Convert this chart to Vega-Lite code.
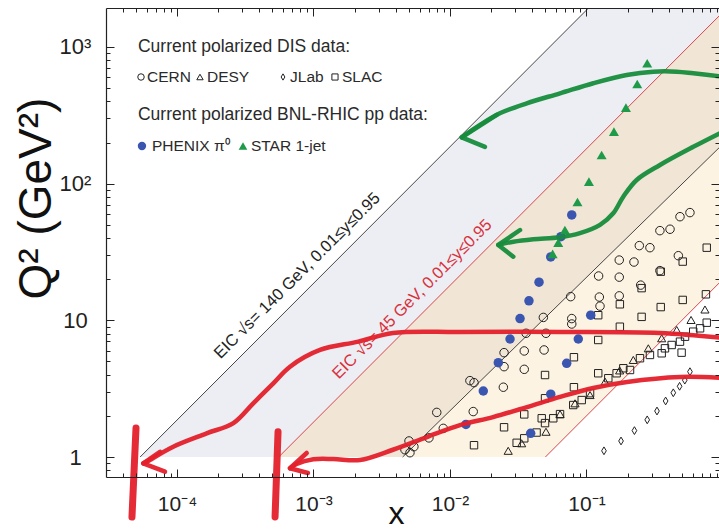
{
  "$schema": "https://vega.github.io/schema/vega-lite/v6.json",
  "width": 613,
  "height": 469,
  "autosize": {"type": "none"},
  "padding": {"left": 106, "top": 8, "right": 0, "bottom": 54},
  "background": "white",
  "config": {"view": {"stroke": null}, "font": "Liberation Sans"},
  "datasets": {
    "gray": [{"x": 5.37e-5, "lo": 1, "hi": 1}, {"x": 0.10355, "lo": 1, "hi": 1928}, {"x": 1.0, "lo": 1, "hi": 1928}],
    "tan": [{"x": 5.56e-4, "lo": 1, "hi": 1}, {"x": 1.0, "lo": 1, "hi": 1800}],
    "cream": [{"x": 0.0045, "lo": 1, "hi": 1}, {"x": 0.05, "lo": 1, "hi": 10.49}, {"x": 1.0, "lo": 20, "hi": 195.2}],
    "white": [{"x": 0.05, "lo": 1, "hi": 1}, {"x": 1.0, "lo": 1, "hi": 20}],
    "lines": [
      {"id": "A", "x": 5.37e-5, "q2": 1}, {"id": "A", "x": 0.10355, "q2": 1928},
      {"id": "B", "x": 5.56e-4, "q2": 1}, {"id": "B", "x": 1.0, "q2": 1800},
      {"id": "C", "x": 0.0045, "q2": 1}, {"id": "C", "x": 1.0, "q2": 195.2},
      {"id": "D", "x": 0.05, "q2": 1}, {"id": "D", "x": 1.0, "q2": 20}
    ],
    "points": [
      {"set": "CERN", "x": 0.00468, "q2": 1.13}, {"set": "CERN", "x": 0.00501, "q2": 1.31}, {"set": "CERN", "x": 0.00509, "q2": 1.075}, {"set": "CERN", "x": 0.00544, "q2": 1.19}, {"set": "CERN", "x": 0.00701, "q2": 1.38}, {"set": "CERN", "x": 0.008, "q2": 2.12}, {"set": "CERN", "x": 0.00893, "q2": 1.62}, {"set": "CERN", "x": 0.014, "q2": 3.62}, {"set": "CERN", "x": 0.015, "q2": 3.5}, {"set": "CERN", "x": 0.0148, "q2": 2.15}, {"set": "CERN", "x": 0.0246, "q2": 3.24}, {"set": "CERN", "x": 0.0249, "q2": 4.58}, {"set": "CERN", "x": 0.0249, "q2": 5.8}, {"set": "CERN", "x": 0.035, "q2": 5.97}, {"set": "CERN", "x": 0.035, "q2": 4.38}, {"set": "CERN", "x": 0.0361, "q2": 8.04}, {"set": "CERN", "x": 0.0483, "q2": 10.5}, {"set": "CERN", "x": 0.0489, "q2": 6.07}, {"set": "CERN", "x": 0.0505, "q2": 8.04}, {"set": "CERN", "x": 0.0766, "q2": 14.9}, {"set": "CERN", "x": 0.078, "q2": 10.3}, {"set": "CERN", "x": 0.078, "q2": 9.4}, {"set": "CERN", "x": 0.1227, "q2": 21.1}, {"set": "CERN", "x": 0.1242, "q2": 14.8}, {"set": "CERN", "x": 0.1256, "q2": 12.7}, {"set": "CERN", "x": 0.1738, "q2": 27.6}, {"set": "CERN", "x": 0.1738, "q2": 20.7}, {"set": "CERN", "x": 0.1738, "q2": 15.1}, {"set": "CERN", "x": 0.2228, "q2": 26.7}, {"set": "CERN", "x": 0.2438, "q2": 35.2}, {"set": "CERN", "x": 0.2495, "q2": 18.1}, {"set": "CERN", "x": 0.2917, "q2": 34.0}, {"set": "CERN", "x": 0.3451, "q2": 45.3}, {"set": "CERN", "x": 0.4093, "q2": 46.4}, {"set": "CERN", "x": 0.471, "q2": 29.7}, {"set": "CERN", "x": 0.4842, "q2": 57.3}, {"set": "CERN", "x": 0.5728, "q2": 61.4}, {"set": "CERN", "x": 0.3451, "q2": 23.1},
      {"set": "SLAC", "x": 0.015, "q2": 1.22}, {"set": "SLAC", "x": 0.0249, "q2": 1.65}, {"set": "SLAC", "x": 0.035, "q2": 2.05}, {"set": "SLAC", "x": 0.0497, "q2": 3.98}, {"set": "SLAC", "x": 0.0497, "q2": 2.69}, {"set": "SLAC", "x": 0.0809, "q2": 5.37}, {"set": "SLAC", "x": 0.0809, "q2": 3.24}, {"set": "SLAC", "x": 0.1219, "q2": 10.9}, {"set": "SLAC", "x": 0.1219, "q2": 7.18}, {"set": "SLAC", "x": 0.1219, "q2": 4.1}, {"set": "SLAC", "x": 0.1756, "q2": 13.1}, {"set": "SLAC", "x": 0.1756, "q2": 8.98}, {"set": "SLAC", "x": 0.2535, "q2": 17.2}, {"set": "SLAC", "x": 0.2535, "q2": 10.6}, {"set": "SLAC", "x": 0.3499, "q2": 22.7}, {"set": "SLAC", "x": 0.3499, "q2": 12.5}, {"set": "SLAC", "x": 0.507, "q2": 26.9}, {"set": "SLAC", "x": 0.507, "q2": 14.1}, {"set": "SLAC", "x": 0.7603, "q2": 34.0}, {"set": "SLAC", "x": 0.7499, "q2": 15.5}, {"set": "SLAC", "x": 0.4977, "q2": 5.8},
      {"set": "SLAC", "x": 0.0308, "q2": 1.27}, {"set": "SLAC", "x": 0.035, "q2": 1.37}, {"set": "SLAC", "x": 0.0431, "q2": 1.51}, {"set": "SLAC", "x": 0.047, "q2": 1.92}, {"set": "SLAC", "x": 0.0497, "q2": 1.77}, {"set": "SLAC", "x": 0.0571, "q2": 1.92}, {"set": "SLAC", "x": 0.064, "q2": 2.06}, {"set": "SLAC", "x": 0.08, "q2": 2.4}, {"set": "SLAC", "x": 0.0923, "q2": 2.61}, {"set": "SLAC", "x": 0.1062, "q2": 2.93}, {"set": "SLAC", "x": 0.1445, "q2": 3.77}, {"set": "SLAC", "x": 0.1663, "q2": 4.1}, {"set": "SLAC", "x": 0.1862, "q2": 4.46}, {"set": "SLAC", "x": 0.2084, "q2": 4.33}, {"set": "SLAC", "x": 0.2466, "q2": 5.28}, {"set": "SLAC", "x": 0.2917, "q2": 5.58}, {"set": "SLAC", "x": 0.3556, "q2": 5.74}, {"set": "SLAC", "x": 0.3758, "q2": 6.24}, {"set": "SLAC", "x": 0.4207, "q2": 6.6}, {"set": "SLAC", "x": 0.4842, "q2": 6.98}, {"set": "SLAC", "x": 0.5272, "q2": 7.59}, {"set": "SLAC", "x": 0.6053, "q2": 8.26}, {"set": "SLAC", "x": 0.6792, "q2": 8.74}, {"set": "SLAC", "x": 0.7603, "q2": 9.61},
      {"set": "DESY", "x": 0.0267, "q2": 1.11}, {"set": "DESY", "x": 0.0335, "q2": 1.26}, {"set": "DESY", "x": 0.0505, "q2": 1.53}, {"set": "DESY", "x": 0.064, "q2": 2.06}, {"set": "DESY", "x": 0.0824, "q2": 2.47}, {"set": "DESY", "x": 0.1062, "q2": 2.84}, {"set": "DESY", "x": 0.1368, "q2": 3.56}, {"set": "DESY", "x": 0.175, "q2": 4.3}, {"set": "DESY", "x": 0.2203, "q2": 5.13}, {"set": "DESY", "x": 0.2838, "q2": 6.24}, {"set": "DESY", "x": 0.3556, "q2": 7.39}, {"set": "DESY", "x": 0.4581, "q2": 8.5}, {"set": "DESY", "x": 0.5834, "q2": 10.06}, {"set": "DESY", "x": 0.7379, "q2": 12.0},
      {"set": "JLab", "x": 0.1343, "q2": 1.11}, {"set": "JLab", "x": 0.1791, "q2": 1.31}, {"set": "JLab", "x": 0.2245, "q2": 1.56}, {"set": "JLab", "x": 0.2786, "q2": 1.87}, {"set": "JLab", "x": 0.3285, "q2": 2.17}, {"set": "JLab", "x": 0.38, "q2": 2.57}, {"set": "JLab", "x": 0.4325, "q2": 2.95}, {"set": "JLab", "x": 0.481, "q2": 3.29}, {"set": "JLab", "x": 0.525, "q2": 3.65}, {"set": "JLab", "x": 0.5728, "q2": 4.21},
      {"set": "PHENIX", "x": 0.01309, "q2": 1.73}, {"set": "PHENIX", "x": 0.01754, "q2": 3.04}, {"set": "PHENIX", "x": 0.0226, "q2": 4.9}, {"set": "PHENIX", "x": 0.02754, "q2": 7.3}, {"set": "PHENIX", "x": 0.0326, "q2": 10.3}, {"set": "PHENIX", "x": 0.0379, "q2": 13.9}, {"set": "PHENIX", "x": 0.0449, "q2": 19.0}, {"set": "PHENIX", "x": 0.0547, "q2": 29.1}, {"set": "PHENIX", "x": 0.065, "q2": 40.9}, {"set": "PHENIX", "x": 0.078, "q2": 59.0}, {"set": "PHENIX", "x": 0.039, "q2": 1.49}, {"set": "PHENIX", "x": 0.0547, "q2": 2.88}, {"set": "PHENIX", "x": 0.0716, "q2": 4.85}, {"set": "PHENIX", "x": 0.0871, "q2": 7.3}, {"set": "PHENIX", "x": 0.1074, "q2": 10.9},
      {"set": "STAR", "x": 0.2786, "q2": 760}, {"set": "STAR", "x": 0.2355, "q2": 536}, {"set": "STAR", "x": 0.1945, "q2": 360}, {"set": "STAR", "x": 0.1589, "q2": 240}, {"set": "STAR", "x": 0.1291, "q2": 162}, {"set": "STAR", "x": 0.1042, "q2": 103.4}, {"set": "STAR", "x": 0.0859, "q2": 73.4}, {"set": "STAR", "x": 0.0695, "q2": 45.8}, {"set": "STAR", "x": 0.0621, "q2": 37.0}, {"set": "STAR", "x": 0.0565, "q2": 30.6}
    ],
    "legendSym": [
      {"set": "CERN", "x": 5.45e-5, "q2": 603}, {"set": "DESY", "x": 1.474e-4, "q2": 603}, {"set": "JLab", "x": 5.98e-4, "q2": 603}, {"set": "SLAC", "x": 1.437e-3, "q2": 603},
      {"set": "PHENIX", "x": 5.54e-5, "q2": 188.7}, {"set": "STAR", "x": 3.045e-4, "q2": 188.7}
    ],
    "legendText": [
      {"kind": "head", "x": 5.18e-5, "q2": 1000, "label": "Current polarized DIS data:"},
      {"kind": "item", "x": 6.03e-5, "q2": 603, "label": "CERN"},
      {"kind": "item", "x": 1.659e-4, "q2": 603, "label": "DESY"},
      {"kind": "item", "x": 6.73e-4, "q2": 603, "label": "JLab"},
      {"kind": "item", "x": 1.618e-3, "q2": 603, "label": "SLAC"},
      {"kind": "head", "x": 5.18e-5, "q2": 318, "label": "Current polarized BNL-RHIC pp data:"},
      {"kind": "item", "x": 6.56e-5, "q2": 188.7, "label": "PHENIX π⁰"},
      {"kind": "item", "x": 3.48e-4, "q2": 188.7, "label": "STAR 1-jet"}
    ],
    "annot": [
      {"grp": "black", "x": 9.31e-4, "q2": 17.33, "label": "EIC √s= 140 GeV, 0.01≤y≤0.95"},
      {"grp": "red", "x": 6.48e-3, "q2": 11.66, "label": "EIC √s= 45 GeV, 0.01≤y≤0.95"}
    ],
    "strokes": [
      {"id": "r1", "kind": "body", "col": "red", "ord": 1, "x": 1.0, "q2": 7.43},
      {"id": "r1", "kind": "body", "col": "red", "ord": 2, "x": 0.3455, "q2": 8.08},
      {"id": "r1", "kind": "body", "col": "red", "ord": 3, "x": 0.064, "q2": 8.22},
      {"id": "r1", "kind": "body", "col": "red", "ord": 4, "x": 0.01184, "q2": 8.22},
      {"id": "r1", "kind": "body", "col": "red", "ord": 5, "x": 0.00382, "q2": 8.08},
      {"id": "r1", "kind": "body", "col": "red", "ord": 6, "x": 0.00213, "q2": 6.98},
      {"id": "r1", "kind": "body", "col": "red", "ord": 7, "x": 0.001116, "q2": 6.07},
      {"id": "r1", "kind": "body", "col": "red", "ord": 8, "x": 0.000673, "q2": 4.58},
      {"id": "r1", "kind": "body", "col": "red", "ord": 9, "x": 0.000508, "q2": 3.46},
      {"id": "r1", "kind": "body", "col": "red", "ord": 10, "x": 0.000362, "q2": 2.47},
      {"id": "r1", "kind": "body", "col": "red", "ord": 11, "x": 0.000259, "q2": 1.77},
      {"id": "r1", "kind": "body", "col": "red", "ord": 12, "x": 0.000165, "q2": 1.49},
      {"id": "r1", "kind": "body", "col": "red", "ord": 13, "x": 0.0000939, "q2": 1.19},
      {"id": "r1", "kind": "body", "col": "red", "ord": 14, "x": 0.00006, "q2": 0.924},
      {"id": "r1", "kind": "body", "col": "red", "ord": 15, "x": 0.0000566, "q2": 0.899},
      {"id": "r1h", "kind": "head", "col": "red", "ord": 1, "x": 0.0000751, "q2": 1.09},
      {"id": "r1h", "kind": "head", "col": "red", "ord": 2, "x": 0.0000566, "q2": 0.899},
      {"id": "r1h", "kind": "head", "col": "red", "ord": 3, "x": 0.0000817, "q2": 0.781},
      {"id": "r2", "kind": "body", "col": "red", "ord": 1, "x": 1.0, "q2": 3.79},
      {"id": "r2", "kind": "body", "col": "red", "ord": 2, "x": 0.484, "q2": 3.85},
      {"id": "r2", "kind": "body", "col": "red", "ord": 3, "x": 0.198, "q2": 3.54},
      {"id": "r2", "kind": "body", "col": "red", "ord": 4, "x": 0.1122, "q2": 3.2},
      {"id": "r2", "kind": "body", "col": "red", "ord": 5, "x": 0.064, "q2": 2.75},
      {"id": "r2", "kind": "body", "col": "red", "ord": 6, "x": 0.0367, "q2": 2.32},
      {"id": "r2", "kind": "body", "col": "red", "ord": 7, "x": 0.0207, "q2": 1.96},
      {"id": "r2", "kind": "body", "col": "red", "ord": 8, "x": 0.01184, "q2": 1.71},
      {"id": "r2", "kind": "body", "col": "red", "ord": 9, "x": 0.00678, "q2": 1.4},
      {"id": "r2", "kind": "body", "col": "red", "ord": 10, "x": 0.00382, "q2": 1.13},
      {"id": "r2", "kind": "body", "col": "red", "ord": 11, "x": 0.00219, "q2": 0.951},
      {"id": "r2", "kind": "body", "col": "red", "ord": 12, "x": 0.001397, "q2": 0.967},
      {"id": "r2", "kind": "body", "col": "red", "ord": 13, "x": 0.000997, "q2": 0.962},
      {"id": "r2", "kind": "body", "col": "red", "ord": 14, "x": 0.000753, "q2": 0.889},
      {"id": "r2", "kind": "body", "col": "red", "ord": 15, "x": 0.000673, "q2": 0.827},
      {"id": "r2h", "kind": "head", "col": "red", "ord": 1, "x": 0.000892, "q2": 1.07},
      {"id": "r2h", "kind": "head", "col": "red", "ord": 2, "x": 0.000673, "q2": 0.827},
      {"id": "r2h", "kind": "head", "col": "red", "ord": 3, "x": 0.000911, "q2": 0.764},
      {"id": "g1", "kind": "body", "col": "green", "ord": 1, "x": 1.0, "q2": 606},
      {"id": "g1", "kind": "body", "col": "green", "ord": 2, "x": 0.606, "q2": 642},
      {"id": "g1", "kind": "body", "col": "green", "ord": 3, "x": 0.458, "q2": 660},
      {"id": "g1", "kind": "body", "col": "green", "ord": 4, "x": 0.3086, "q2": 660},
      {"id": "g1", "kind": "body", "col": "green", "ord": 5, "x": 0.197, "q2": 624},
      {"id": "g1", "kind": "body", "col": "green", "ord": 6, "x": 0.1122, "q2": 543},
      {"id": "g1", "kind": "body", "col": "green", "ord": 7, "x": 0.064, "q2": 458},
      {"id": "g1", "kind": "body", "col": "green", "ord": 8, "x": 0.0365, "q2": 387},
      {"id": "g1", "kind": "body", "col": "green", "ord": 9, "x": 0.0232, "q2": 327},
      {"id": "g1", "kind": "body", "col": "green", "ord": 10, "x": 0.01659, "q2": 269},
      {"id": "g1", "kind": "body", "col": "green", "ord": 11, "x": 0.01288, "q2": 227},
      {"id": "g1", "kind": "body", "col": "green", "ord": 12, "x": 0.01218, "q2": 218},
      {"id": "g1h", "kind": "head", "col": "green", "ord": 1, "x": 0.022, "q2": 318},
      {"id": "g1h", "kind": "head", "col": "green", "ord": 2, "x": 0.01218, "q2": 218},
      {"id": "g1h", "kind": "head", "col": "green", "ord": 3, "x": 0.01805, "q2": 186},
      {"id": "g2", "kind": "body", "col": "green", "ord": 1, "x": 1.0, "q2": 240},
      {"id": "g2", "kind": "body", "col": "green", "ord": 2, "x": 0.606, "q2": 186},
      {"id": "g2", "kind": "body", "col": "green", "ord": 3, "x": 0.3455, "q2": 137},
      {"id": "g2", "kind": "body", "col": "green", "ord": 4, "x": 0.2332, "q2": 106.4},
      {"id": "g2", "kind": "body", "col": "green", "ord": 5, "x": 0.186, "q2": 80.3},
      {"id": "g2", "kind": "body", "col": "green", "ord": 6, "x": 0.157, "q2": 60.7},
      {"id": "g2", "kind": "body", "col": "green", "ord": 7, "x": 0.1256, "q2": 49.9},
      {"id": "g2", "kind": "body", "col": "green", "ord": 8, "x": 0.0896, "q2": 43.4},
      {"id": "g2", "kind": "body", "col": "green", "ord": 9, "x": 0.064, "q2": 40.5},
      {"id": "g2", "kind": "body", "col": "green", "ord": 10, "x": 0.0408, "q2": 39.2},
      {"id": "g2", "kind": "body", "col": "green", "ord": 11, "x": 0.0291, "q2": 37.6},
      {"id": "g2", "kind": "body", "col": "green", "ord": 12, "x": 0.0226, "q2": 35.6},
      {"id": "g2h", "kind": "head", "col": "green", "ord": 1, "x": 0.0326, "q2": 45.8},
      {"id": "g2h", "kind": "head", "col": "green", "ord": 2, "x": 0.0226, "q2": 35.6},
      {"id": "g2h", "kind": "head", "col": "green", "ord": 3, "x": 0.0291, "q2": 29.2},
      {"id": "b1", "kind": "bar", "col": "red", "ord": 1, "x": 5.01e-5, "q2": 1.63},
      {"id": "b1", "kind": "bar", "col": "red", "ord": 2, "x": 4.68e-5, "q2": 0.364},
      {"id": "b2", "kind": "bar", "col": "red", "ord": 1, "x": 5.5e-4, "q2": 1.53},
      {"id": "b2", "kind": "bar", "col": "red", "ord": 2, "x": 5.23e-4, "q2": 0.364}
    ]
  },
  "resolve": {
    "axis": {"x": "independent", "y": "independent"},
    "scale": {"color": "independent", "shape": "independent", "size": "independent"}
  },
  "layer": [
    {
      "data": {"name": "gray"},
      "mark": {"type": "area", "color": "#eceef4"},
      "encoding": {
        "x": {"field": "x", "type": "quantitative", "scale": {"type": "log", "domain": [3.02e-5, 0.935], "nice": false},
          "axis": {"orient": "bottom", "values": [0.0001, 0.001, 0.01, 0.1, 1], "zindex": 1,
            "labelExpr": "datum.value < 0.0005 ? '10⁻⁴' : datum.value < 0.005 ? '10⁻³' : datum.value < 0.05 ? '10⁻²' : datum.value < 0.5 ? '10⁻¹' : '1'",
            "tickSize": -8, "tickColor": "#222", "tickWidth": 1, "domainColor": "#222", "domainWidth": 1.2, "grid": false,
            "labelFont": "Liberation Sans", "labelFontSize": 21, "labelColor": "#222", "labelPadding": 41, "labelBaseline": "alphabetic", "labelAlign": "center", "labelFlush": false, "labelOverlap": false, "labelBound": false,
            "title": "x", "titleFont": "Liberation Sans", "titleFontSize": 32, "titleFontWeight": "normal", "titleColor": "#111", "titleX": 290, "titleY": 46, "titleBaseline": "alphabetic", "titleAlign": "center"}},
        "y": {"field": "hi", "type": "quantitative", "scale": {"type": "log", "domain": [0.714, 1928], "nice": false},
          "axis": {"orient": "left", "values": [1, 10, 100, 1000], "zindex": 1,
            "labelExpr": "datum.value > 500 ? '10³' : datum.value > 50 ? '10²' : datum.value > 5 ? '10' : '1'",
            "tickSize": -8, "tickColor": "#222", "tickWidth": 1, "domainColor": "#222", "domainWidth": 1.2, "grid": false,
            "labelFont": "Liberation Sans", "labelFontSize": 22, "labelColor": "#222", "labelPadding": 39, "labelBaseline": "middle", "labelAlign": "center", "labelFlush": false, "labelOverlap": false, "labelBound": false,
            "title": "Q² (GeV²)", "titleFont": "Liberation Sans", "titleFontSize": 46, "titleFontWeight": "normal", "titleColor": "#111", "titleX": -56, "titleY": 190, "titleAngle": -90, "titleBaseline": "alphabetic", "titleAlign": "center"}},
        "y2": {"field": "lo"}
      }
    },
    {
      "data": {"name": "tan"},
      "mark": {"type": "area", "color": "#f1e6d6"},
      "encoding": {
        "x": {"field": "x", "type": "quantitative",
          "axis": {"orient": "bottom", "zindex": 1, "values": [4e-5, 5e-5, 6e-5, 7e-5, 8e-5, 9e-5, 2e-4, 3e-4, 4e-4, 5e-4, 6e-4, 7e-4, 8e-4, 9e-4, 0.002, 0.003, 0.004, 0.005, 0.006, 0.007, 0.008, 0.009, 0.02, 0.03, 0.04, 0.05, 0.06, 0.07, 0.08, 0.09, 0.2, 0.3, 0.4, 0.5, 0.6, 0.7, 0.8, 0.9],
            "labels": false, "domain": false, "grid": false, "tickSize": -4, "tickColor": "#222", "tickWidth": 1, "title": null}},
        "y": {"field": "hi", "type": "quantitative",
          "axis": {"orient": "left", "zindex": 1, "values": [0.8, 0.9, 2, 3, 4, 5, 6, 7, 8, 9, 20, 30, 40, 50, 60, 70, 80, 90, 200, 300, 400, 500, 600, 700, 800, 900],
            "labels": false, "domain": false, "grid": false, "tickSize": -4, "tickColor": "#222", "tickWidth": 1, "title": null}},
        "y2": {"field": "lo"}
      }
    },
    {
      "data": {"name": "cream"},
      "mark": {"type": "area", "color": "#fdf3e2"},
      "encoding": {
        "x": {"field": "x", "type": "quantitative",
          "axis": {"orient": "top", "zindex": 1, "values": [0.0001, 0.001, 0.01, 0.1, 1], "labels": false, "domain": true, "domainColor": "#222", "domainWidth": 1.2, "grid": false, "tickSize": -8, "tickColor": "#222", "tickWidth": 1, "title": null}},
        "y": {"field": "hi", "type": "quantitative",
          "axis": {"orient": "right", "zindex": 1, "values": [1, 10, 100, 1000], "labels": false, "domain": false, "grid": false, "tickSize": -8, "tickColor": "#222", "tickWidth": 1, "title": null}},
        "y2": {"field": "lo"}
      }
    },
    {
      "data": {"name": "white"},
      "mark": {"type": "area", "color": "#ffffff"},
      "encoding": {
        "x": {"field": "x", "type": "quantitative",
          "axis": {"orient": "top", "zindex": 1, "values": [4e-5, 5e-5, 6e-5, 7e-5, 8e-5, 9e-5, 2e-4, 3e-4, 4e-4, 5e-4, 6e-4, 7e-4, 8e-4, 9e-4, 0.002, 0.003, 0.004, 0.005, 0.006, 0.007, 0.008, 0.009, 0.02, 0.03, 0.04, 0.05, 0.06, 0.07, 0.08, 0.09, 0.2, 0.3, 0.4, 0.5, 0.6, 0.7, 0.8, 0.9],
            "labels": false, "domain": false, "grid": false, "tickSize": -4, "tickColor": "#222", "tickWidth": 1, "title": null}},
        "y": {"field": "hi", "type": "quantitative",
          "axis": {"orient": "right", "zindex": 1, "values": [0.8, 0.9, 2, 3, 4, 5, 6, 7, 8, 9, 20, 30, 40, 50, 60, 70, 80, 90, 200, 300, 400, 500, 600, 700, 800, 900],
            "labels": false, "domain": false, "grid": false, "tickSize": -4, "tickColor": "#222", "tickWidth": 1, "title": null}},
        "y2": {"field": "lo"}
      }
    },
    {
      "data": {"name": "lines"},
      "mark": {"type": "line", "strokeWidth": 0.9},
      "encoding": {
        "x": {"field": "x", "type": "quantitative", "axis": null},
        "y": {"field": "q2", "type": "quantitative", "axis": null},
        "color": {"field": "id", "type": "nominal", "scale": {"domain": ["A", "B", "C", "D"], "range": ["#333333", "#d8323c", "#333333", "#d8323c"]}, "legend": null}
      }
    },
    {
      "data": {"name": "annot"},
      "mark": {"type": "text", "angle": -45, "align": "center", "baseline": "middle", "dy": -17, "fontSize": 16.5, "font": "Liberation Sans"},
      "encoding": {
        "x": {"field": "x", "type": "quantitative", "axis": null},
        "y": {"field": "q2", "type": "quantitative", "axis": null},
        "text": {"field": "label"},
        "color": {"field": "grp", "type": "nominal", "scale": {"domain": ["black", "red"], "range": ["#222222", "#d8323c"]}, "legend": null}
      }
    },
    {
      "data": {"name": "points"},
      "transform": [{"filter": "datum.set != 'PHENIX' && datum.set != 'STAR'"}],
      "mark": {"type": "point", "filled": false, "stroke": "#222", "strokeWidth": 1, "opacity": 1},
      "encoding": {
        "x": {"field": "x", "type": "quantitative", "axis": null},
        "y": {"field": "q2", "type": "quantitative", "axis": null},
        "shape": {"field": "set", "type": "nominal", "scale": {"domain": ["CERN", "DESY", "JLab", "SLAC"], "range": ["circle", "triangle-up", "M0,-1L0.6,0L0,1L-0.6,0Z", "square"]}, "legend": null},
        "size": {"field": "set", "type": "nominal", "scale": {"domain": ["CERN", "DESY", "JLab", "SLAC"], "range": [72, 55, 45, 72]}, "legend": null}
      }
    },
    {
      "data": {"name": "points"},
      "transform": [{"filter": "datum.set == 'PHENIX' || datum.set == 'STAR'"}],
      "mark": {"type": "point", "filled": true, "opacity": 1, "strokeWidth": 0},
      "encoding": {
        "x": {"field": "x", "type": "quantitative", "axis": null},
        "y": {"field": "q2", "type": "quantitative", "axis": null},
        "shape": {"field": "set", "type": "nominal", "scale": {"domain": ["PHENIX", "STAR"], "range": ["circle", "triangle-up"]}, "legend": null},
        "size": {"field": "set", "type": "nominal", "scale": {"domain": ["PHENIX", "STAR"], "range": [90, 100]}, "legend": null},
        "color": {"field": "set", "type": "nominal", "scale": {"domain": ["PHENIX", "STAR"], "range": ["#3b56b0", "#1e9a48"]}, "legend": null}
      }
    },
    {
      "data": {"name": "legendSym"},
      "transform": [{"filter": "datum.set != 'PHENIX' && datum.set != 'STAR'"}],
      "mark": {"type": "point", "filled": false, "stroke": "#222", "strokeWidth": 1, "opacity": 1},
      "encoding": {
        "x": {"field": "x", "type": "quantitative", "axis": null},
        "y": {"field": "q2", "type": "quantitative", "axis": null},
        "shape": {"field": "set", "type": "nominal", "scale": {"domain": ["CERN", "DESY", "JLab", "SLAC"], "range": ["circle", "triangle-up", "M0,-1L0.6,0L0,1L-0.6,0Z", "square"]}, "legend": null},
        "size": {"field": "set", "type": "nominal", "scale": {"domain": ["CERN", "DESY", "JLab", "SLAC"], "range": [42, 38, 40, 42]}, "legend": null}
      }
    },
    {
      "data": {"name": "legendSym"},
      "transform": [{"filter": "datum.set == 'PHENIX' || datum.set == 'STAR'"}],
      "mark": {"type": "point", "filled": true, "opacity": 1, "strokeWidth": 0},
      "encoding": {
        "x": {"field": "x", "type": "quantitative", "axis": null},
        "y": {"field": "q2", "type": "quantitative", "axis": null},
        "shape": {"field": "set", "type": "nominal", "scale": {"domain": ["PHENIX", "STAR"], "range": ["circle", "triangle-up"]}, "legend": null},
        "size": {"field": "set", "type": "nominal", "scale": {"domain": ["PHENIX", "STAR"], "range": [70, 75]}, "legend": null},
        "color": {"field": "set", "type": "nominal", "scale": {"domain": ["PHENIX", "STAR"], "range": ["#3b56b0", "#1e9a48"]}, "legend": null}
      }
    },
    {
      "data": {"name": "legendText"},
      "transform": [{"filter": "datum.kind == 'head'"}],
      "mark": {"type": "text", "align": "left", "baseline": "middle", "fontSize": 17.5, "font": "Liberation Sans", "color": "#2a2a2a"},
      "encoding": {
        "x": {"field": "x", "type": "quantitative", "axis": null},
        "y": {"field": "q2", "type": "quantitative", "axis": null},
        "text": {"field": "label"}
      }
    },
    {
      "data": {"name": "legendText"},
      "transform": [{"filter": "datum.kind == 'item'"}],
      "mark": {"type": "text", "align": "left", "baseline": "middle", "fontSize": 15.5, "font": "Liberation Sans", "color": "#2a2a2a"},
      "encoding": {
        "x": {"field": "x", "type": "quantitative", "axis": null},
        "y": {"field": "q2", "type": "quantitative", "axis": null},
        "text": {"field": "label"}
      }
    },
    {
      "data": {"name": "strokes"},
      "transform": [{"filter": "datum.kind == 'bar'"}],
      "mark": {"type": "line", "strokeWidth": 7, "strokeCap": "round", "opacity": 0.95},
      "encoding": {
        "x": {"field": "x", "type": "quantitative", "axis": null},
        "y": {"field": "q2", "type": "quantitative", "axis": null},
        "detail": {"field": "id"},
        "order": {"field": "ord", "type": "quantitative"},
        "color": {"field": "col", "type": "nominal", "scale": {"domain": ["red", "green"], "range": ["#e3202b", "#178c3c"]}, "legend": null}
      }
    },
    {
      "data": {"name": "strokes"},
      "transform": [{"filter": "datum.kind == 'body'"}],
      "mark": {"type": "line", "strokeWidth": 4.5, "strokeCap": "round", "strokeJoin": "round", "interpolate": "catmull-rom", "opacity": 0.95},
      "encoding": {
        "x": {"field": "x", "type": "quantitative", "axis": null},
        "y": {"field": "q2", "type": "quantitative", "axis": null},
        "detail": {"field": "id"},
        "order": {"field": "ord", "type": "quantitative"},
        "color": {"field": "col", "type": "nominal", "scale": {"domain": ["red", "green"], "range": ["#e3202b", "#178c3c"]}, "legend": null}
      }
    },
    {
      "data": {"name": "strokes"},
      "transform": [{"filter": "datum.kind == 'head'"}],
      "mark": {"type": "line", "strokeWidth": 4.5, "strokeCap": "round", "strokeJoin": "round", "opacity": 0.95},
      "encoding": {
        "x": {"field": "x", "type": "quantitative", "axis": null},
        "y": {"field": "q2", "type": "quantitative", "axis": null},
        "detail": {"field": "id"},
        "order": {"field": "ord", "type": "quantitative"},
        "color": {"field": "col", "type": "nominal", "scale": {"domain": ["red", "green"], "range": ["#e3202b", "#178c3c"]}, "legend": null}
      }
    }
  ]
}
